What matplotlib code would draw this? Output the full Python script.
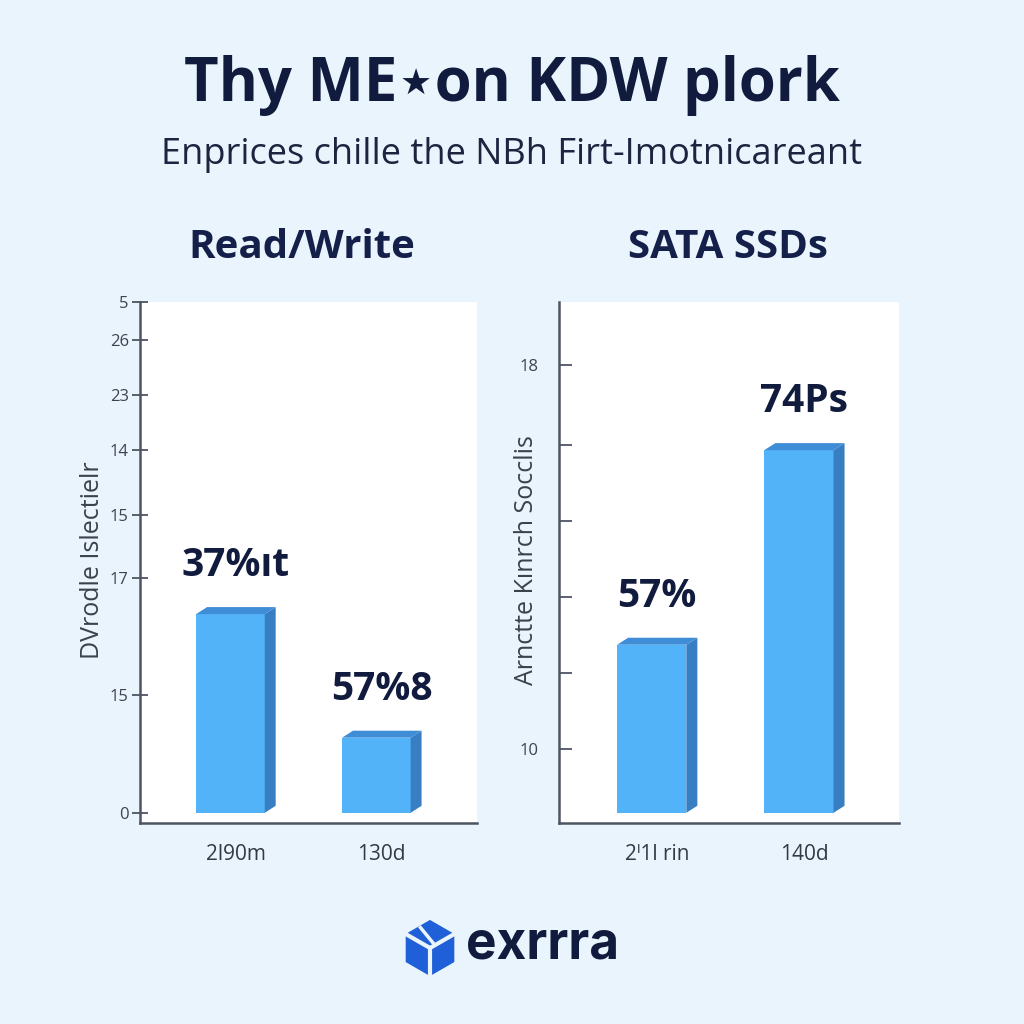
import numpy as np
import matplotlib
matplotlib.use("Agg")
import matplotlib.pyplot as plt
from matplotlib.patches import Polygon, RegularPolygon

# Данные для графика
left_categories = ["2l90m", "130d"]
left_values = [38.9, 14.7]
left_labels = ["37%ıt", "57%8"]
left_tick_pos = [0, 23.1, 46.0, 58.3, 71.1, 81.8, 92.6, 100]
left_tick_labels = ["0", "15", "17", "15", "14", "23", "26", "5"]

right_categories = ["2ˡ1l rin", "140d"]
right_values = [32.9, 71.0]
right_labels = ["57%", "74Ps"]
right_tick_pos = [12.5, 27.4, 42.3, 57.2, 72.0, 87.7]
right_tick_labels = ["10", "", "", "", "", "18"]

BG = "#EAF4FD"
NAVY = "#111B3E"
FRONT = "#52B3F8"
SIDE = "#377FC2"
TOP = "#3E8DD6"
SPINE = "#4D5463"

plt.rcParams['font.family'] = ['Open Sans', 'DejaVu Sans']

fig = plt.figure(figsize=(10.24, 10.24), dpi=100, facecolor=BG)


def draw_panel(rect, xlim, values, labels, cats, tpos, tlabels, ylabel, label_x,
               tdir, tlen, tpad):
    ax = fig.add_axes(rect)
    ax.set_facecolor("white")
    x = np.arange(len(values))
    w = 0.47
    dx, dy = 0.075, 1.37
    ax.bar(x, values, width=w, color=FRONT, zorder=3)
    for xi, v, lab in zip(x, values, labels):
        side = [(xi + w / 2, 0), (xi + w / 2 + dx, dy), (xi + w / 2 + dx, v + dy), (xi + w / 2, v)]
        top = [(xi - w / 2, v), (xi - w / 2 + dx, v + dy), (xi + w / 2 + dx, v + dy), (xi + w / 2, v)]
        ax.add_patch(Polygon(side, closed=True, color=SIDE, zorder=3, lw=0))
        ax.add_patch(Polygon(top, closed=True, color=TOP, zorder=3, lw=0))
        ax.text(xi + dx / 2, v + 9.5, lab, ha='center', va='center', fontsize=28,
                fontweight='bold', color=NAVY)
    ax.set_xlim(*xlim)
    ax.set_ylim(-2, 100)
    ax.set_xticks(x + dx / 2)
    ax.set_xticklabels(cats, fontsize=15, color="#333a45")
    ax.tick_params(axis='x', length=0, pad=15)
    ax.set_yticks(tpos)
    ax.set_yticklabels(tlabels, fontsize=12, color="#3d4350")
    ax.tick_params(axis='y', direction=tdir, length=tlen, width=1.3, color=SPINE, pad=tpad)
    for s in ['top', 'right']:
        ax.spines[s].set_visible(False)
    for s in ['left', 'bottom']:
        ax.spines[s].set_color(SPINE)
        ax.spines[s].set_linewidth(1.8)
    ax.set_ylabel(ylabel, fontsize=18, color="#3a404c")
    ax.yaxis.set_label_coords(label_x, 0.505)
    return ax


draw_panel([140 / 1024, 201 / 1024, 337 / 1024, 521 / 1024], (-0.62, 1.69),
           left_values, left_labels, left_categories, left_tick_pos, left_tick_labels,
           "DVrodle Islectielr", -0.105, 'inout', 12, 2)
draw_panel([559 / 1024, 201 / 1024, 340 / 1024, 521 / 1024], (-0.63, 1.68),
           right_values, right_labels, right_categories, right_tick_pos, right_tick_labels,
           "Arnctte Kınrch Socclis", -0.06, 'in', 9, 15)

# Заголовки
fig.text(0.5, 1 - 85 / 1024, "Thy ME\u22c6on KDW plork", ha='center', va='center',
         fontsize=43, fontweight='bold', color=NAVY)
fig.text(0.5, 1 - 155 / 1024, "Enprices chille the NBh Firt-Imotnicareant", ha='center',
         va='center', fontsize=26, color="#1c2440")
fig.text(302 / 1024, 1 - 247 / 1024, "Read/Write", ha='center', va='center',
         fontsize=29, fontweight='bold', color="#14204a")
fig.text(728 / 1024, 1 - 247 / 1024, "SATA SSDs", ha='center', va='center',
         fontsize=29, fontweight='bold', color="#14204a")

# Логотип
lax = fig.add_axes([400 / 1024, 1 - 978 / 1024, 60 / 1024, 60 / 1024])
lax.set_xlim(-1.1, 1.1)
lax.set_ylim(-1.1, 1.1)
lax.set_aspect('equal')
lax.axis('off')
lax.add_patch(RegularPolygon((0, 0), 6, radius=1.0, orientation=0, color="#1F5FD8"))
lax.plot([0, 0], [0, -1.0], color=BG, lw=3)
lax.plot([0, -0.87], [0, 0.5], color=BG, lw=3)
lax.plot([0, 0.87], [0, 0.5], color=BG, lw=3)
lax.plot([-0.35, 0.1], [0.75, 0.2], color=BG, lw=2.5)
fig.text(466 / 1024, 1 - 945 / 1024, "exrrra", ha='left', va='center',
         fontsize=37, fontweight='bold', color=NAVY, family=['Inter', 'DejaVu Sans'])

fig.savefig("out.png", dpi=100, facecolor=BG)
